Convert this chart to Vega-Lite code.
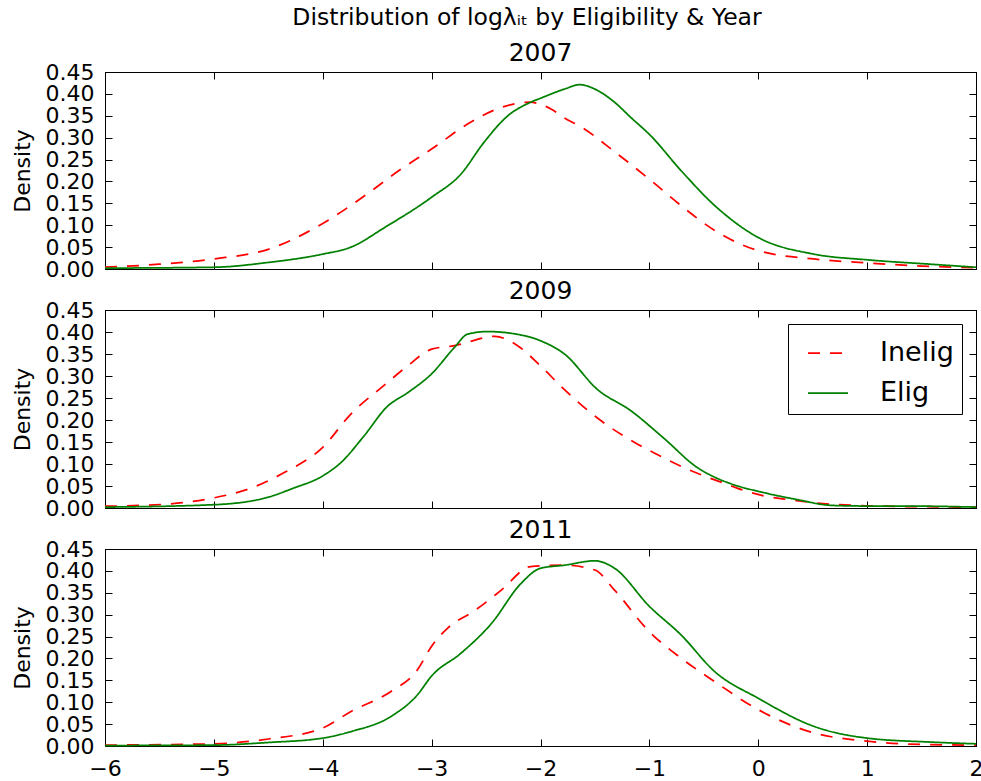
{
  "$schema": "https://vega.github.io/schema/vega-lite/v6.json",
  "padding": {"left": 10, "top": 6, "right": 0, "bottom": 0},
  "background": "white",
  "title": {"text": "Distribution of logλᵢₜ by Eligibility & Year", "font": "DejaVu Sans", "fontSize": 23.5, "fontWeight": "normal", "anchor": "middle", "offset": 11, "dx": 30, "color": "black"},
  "datasets": {
    "d": [
      {"year": 2007, "group": "Inelig", "x": -6, "y": 0.004},
      {"year": 2007, "group": "Inelig", "x": -5.5, "y": 0.011},
      {"year": 2007, "group": "Inelig", "x": -5, "y": 0.023},
      {"year": 2007, "group": "Inelig", "x": -4.5, "y": 0.045},
      {"year": 2007, "group": "Inelig", "x": -4, "y": 0.104},
      {"year": 2007, "group": "Inelig", "x": -3.6, "y": 0.170},
      {"year": 2007, "group": "Inelig", "x": -3.3, "y": 0.225},
      {"year": 2007, "group": "Inelig", "x": -3, "y": 0.274},
      {"year": 2007, "group": "Inelig", "x": -2.67, "y": 0.331},
      {"year": 2007, "group": "Inelig", "x": -2.36, "y": 0.369},
      {"year": 2007, "group": "Inelig", "x": -2.1, "y": 0.381},
      {"year": 2007, "group": "Inelig", "x": -1.9, "y": 0.365},
      {"year": 2007, "group": "Inelig", "x": -1.78, "y": 0.345},
      {"year": 2007, "group": "Inelig", "x": -1.63, "y": 0.325},
      {"year": 2007, "group": "Inelig", "x": -1.32, "y": 0.268},
      {"year": 2007, "group": "Inelig", "x": -0.99, "y": 0.203},
      {"year": 2007, "group": "Inelig", "x": -0.71, "y": 0.145},
      {"year": 2007, "group": "Inelig", "x": -0.4, "y": 0.088},
      {"year": 2007, "group": "Inelig", "x": 0, "y": 0.042},
      {"year": 2007, "group": "Inelig", "x": 0.51, "y": 0.023},
      {"year": 2007, "group": "Inelig", "x": 1, "y": 0.014},
      {"year": 2007, "group": "Inelig", "x": 1.58, "y": 0.006},
      {"year": 2007, "group": "Inelig", "x": 2, "y": 0.003},
      {"year": 2007, "group": "Elig", "x": -6, "y": 0.002},
      {"year": 2007, "group": "Elig", "x": -5, "y": 0.004},
      {"year": 2007, "group": "Elig", "x": -4.5, "y": 0.015},
      {"year": 2007, "group": "Elig", "x": -4, "y": 0.034},
      {"year": 2007, "group": "Elig", "x": -3.74, "y": 0.050},
      {"year": 2007, "group": "Elig", "x": -3.43, "y": 0.095},
      {"year": 2007, "group": "Elig", "x": -3, "y": 0.164},
      {"year": 2007, "group": "Elig", "x": -2.73, "y": 0.217},
      {"year": 2007, "group": "Elig", "x": -2.52, "y": 0.289},
      {"year": 2007, "group": "Elig", "x": -2.3, "y": 0.350},
      {"year": 2007, "group": "Elig", "x": -2.09, "y": 0.381},
      {"year": 2007, "group": "Elig", "x": -2.0, "y": 0.390},
      {"year": 2007, "group": "Elig", "x": -1.78, "y": 0.411},
      {"year": 2007, "group": "Elig", "x": -1.64, "y": 0.421},
      {"year": 2007, "group": "Elig", "x": -1.47, "y": 0.407},
      {"year": 2007, "group": "Elig", "x": -1.32, "y": 0.381},
      {"year": 2007, "group": "Elig", "x": -1.17, "y": 0.346},
      {"year": 2007, "group": "Elig", "x": -0.99, "y": 0.305},
      {"year": 2007, "group": "Elig", "x": -0.71, "y": 0.225},
      {"year": 2007, "group": "Elig", "x": -0.4, "y": 0.145},
      {"year": 2007, "group": "Elig", "x": 0, "y": 0.072},
      {"year": 2007, "group": "Elig", "x": 0.51, "y": 0.034},
      {"year": 2007, "group": "Elig", "x": 1, "y": 0.021},
      {"year": 2007, "group": "Elig", "x": 1.58, "y": 0.011},
      {"year": 2007, "group": "Elig", "x": 2, "y": 0.004},

      {"year": 2009, "group": "Inelig", "x": -6, "y": 0.004},
      {"year": 2009, "group": "Inelig", "x": -5.42, "y": 0.009},
      {"year": 2009, "group": "Inelig", "x": -5, "y": 0.023},
      {"year": 2009, "group": "Inelig", "x": -4.66, "y": 0.045},
      {"year": 2009, "group": "Inelig", "x": -4.35, "y": 0.081},
      {"year": 2009, "group": "Inelig", "x": -4, "y": 0.138},
      {"year": 2009, "group": "Inelig", "x": -3.74, "y": 0.214},
      {"year": 2009, "group": "Inelig", "x": -3.44, "y": 0.278},
      {"year": 2009, "group": "Inelig", "x": -3.22, "y": 0.323},
      {"year": 2009, "group": "Inelig", "x": -3, "y": 0.361},
      {"year": 2009, "group": "Inelig", "x": -2.79, "y": 0.369},
      {"year": 2009, "group": "Inelig", "x": -2.42, "y": 0.390},
      {"year": 2009, "group": "Inelig", "x": -2.21, "y": 0.369},
      {"year": 2009, "group": "Inelig", "x": -2.0, "y": 0.323},
      {"year": 2009, "group": "Inelig", "x": -1.78, "y": 0.269},
      {"year": 2009, "group": "Inelig", "x": -1.48, "y": 0.205},
      {"year": 2009, "group": "Inelig", "x": -1.1, "y": 0.144},
      {"year": 2009, "group": "Inelig", "x": -0.89, "y": 0.117},
      {"year": 2009, "group": "Inelig", "x": -0.72, "y": 0.096},
      {"year": 2009, "group": "Inelig", "x": -0.52, "y": 0.075},
      {"year": 2009, "group": "Inelig", "x": -0.32, "y": 0.057},
      {"year": 2009, "group": "Inelig", "x": -0.12, "y": 0.039},
      {"year": 2009, "group": "Inelig", "x": 0.08, "y": 0.026},
      {"year": 2009, "group": "Inelig", "x": 0.29, "y": 0.019},
      {"year": 2009, "group": "Inelig", "x": 0.51, "y": 0.012},
      {"year": 2009, "group": "Inelig", "x": 1, "y": 0.005},
      {"year": 2009, "group": "Inelig", "x": 1.5, "y": 0.003},
      {"year": 2009, "group": "Inelig", "x": 2, "y": 0.002},
      {"year": 2009, "group": "Elig", "x": -6, "y": 0.002},
      {"year": 2009, "group": "Elig", "x": -5, "y": 0.0075},
      {"year": 2009, "group": "Elig", "x": -4.51, "y": 0.024},
      {"year": 2009, "group": "Elig", "x": -4.27, "y": 0.045},
      {"year": 2009, "group": "Elig", "x": -4, "y": 0.073},
      {"year": 2009, "group": "Elig", "x": -3.83, "y": 0.104},
      {"year": 2009, "group": "Elig", "x": -3.62, "y": 0.164},
      {"year": 2009, "group": "Elig", "x": -3.41, "y": 0.230},
      {"year": 2009, "group": "Elig", "x": -3.22, "y": 0.262},
      {"year": 2009, "group": "Elig", "x": -3, "y": 0.305},
      {"year": 2009, "group": "Elig", "x": -2.79, "y": 0.365},
      {"year": 2009, "group": "Elig", "x": -2.67, "y": 0.395},
      {"year": 2009, "group": "Elig", "x": -2.49, "y": 0.401},
      {"year": 2009, "group": "Elig", "x": -2.09, "y": 0.388},
      {"year": 2009, "group": "Elig", "x": -2.0, "y": 0.380},
      {"year": 2009, "group": "Elig", "x": -1.78, "y": 0.350},
      {"year": 2009, "group": "Elig", "x": -1.48, "y": 0.270},
      {"year": 2009, "group": "Elig", "x": -1.17, "y": 0.221},
      {"year": 2009, "group": "Elig", "x": -0.86, "y": 0.157},
      {"year": 2009, "group": "Elig", "x": -0.56, "y": 0.092},
      {"year": 2009, "group": "Elig", "x": -0.4, "y": 0.070},
      {"year": 2009, "group": "Elig", "x": -0.25, "y": 0.055},
      {"year": 2009, "group": "Elig", "x": 0.05, "y": 0.035},
      {"year": 2009, "group": "Elig", "x": 0.36, "y": 0.019},
      {"year": 2009, "group": "Elig", "x": 0.67, "y": 0.006},
      {"year": 2009, "group": "Elig", "x": 0.97, "y": 0.0045},
      {"year": 2009, "group": "Elig", "x": 1.28, "y": 0.0045},
      {"year": 2009, "group": "Elig", "x": 1.58, "y": 0.004},
      {"year": 2009, "group": "Elig", "x": 2, "y": 0.002},

      {"year": 2011, "group": "Inelig", "x": -6, "y": 0.002},
      {"year": 2011, "group": "Inelig", "x": -5, "y": 0.005},
      {"year": 2011, "group": "Inelig", "x": -4.5, "y": 0.016},
      {"year": 2011, "group": "Inelig", "x": -4, "y": 0.041},
      {"year": 2011, "group": "Inelig", "x": -3.74, "y": 0.079},
      {"year": 2011, "group": "Inelig", "x": -3.37, "y": 0.125},
      {"year": 2011, "group": "Inelig", "x": -3.13, "y": 0.174},
      {"year": 2011, "group": "Inelig", "x": -3, "y": 0.228},
      {"year": 2011, "group": "Inelig", "x": -2.85, "y": 0.270},
      {"year": 2011, "group": "Inelig", "x": -2.6, "y": 0.310},
      {"year": 2011, "group": "Inelig", "x": -2.36, "y": 0.356},
      {"year": 2011, "group": "Inelig", "x": -2.09, "y": 0.410},
      {"year": 2011, "group": "Inelig", "x": -1.78, "y": 0.413},
      {"year": 2011, "group": "Inelig", "x": -1.5, "y": 0.402},
      {"year": 2011, "group": "Inelig", "x": -1.32, "y": 0.356},
      {"year": 2011, "group": "Inelig", "x": -1.0, "y": 0.261},
      {"year": 2011, "group": "Inelig", "x": -0.71, "y": 0.201},
      {"year": 2011, "group": "Inelig", "x": -0.4, "y": 0.147},
      {"year": 2011, "group": "Inelig", "x": 0, "y": 0.083},
      {"year": 2011, "group": "Inelig", "x": 0.51, "y": 0.030},
      {"year": 2011, "group": "Inelig", "x": 1, "y": 0.011},
      {"year": 2011, "group": "Inelig", "x": 1.58, "y": 0.003},
      {"year": 2011, "group": "Inelig", "x": 2, "y": 0.002},
      {"year": 2011, "group": "Elig", "x": -6, "y": 0.001},
      {"year": 2011, "group": "Elig", "x": -5, "y": 0.002},
      {"year": 2011, "group": "Elig", "x": -4.5, "y": 0.008},
      {"year": 2011, "group": "Elig", "x": -4, "y": 0.018},
      {"year": 2011, "group": "Elig", "x": -3.74, "y": 0.033},
      {"year": 2011, "group": "Elig", "x": -3.37, "y": 0.068},
      {"year": 2011, "group": "Elig", "x": -3.13, "y": 0.117},
      {"year": 2011, "group": "Elig", "x": -3, "y": 0.160},
      {"year": 2011, "group": "Elig", "x": -2.73, "y": 0.212},
      {"year": 2011, "group": "Elig", "x": -2.45, "y": 0.280},
      {"year": 2011, "group": "Elig", "x": -2.18, "y": 0.371},
      {"year": 2011, "group": "Elig", "x": -2.0, "y": 0.406},
      {"year": 2011, "group": "Elig", "x": -1.78, "y": 0.413},
      {"year": 2011, "group": "Elig", "x": -1.5, "y": 0.423},
      {"year": 2011, "group": "Elig", "x": -1.32, "y": 0.406},
      {"year": 2011, "group": "Elig", "x": -1.0, "y": 0.319},
      {"year": 2011, "group": "Elig", "x": -0.71, "y": 0.254},
      {"year": 2011, "group": "Elig", "x": -0.4, "y": 0.170},
      {"year": 2011, "group": "Elig", "x": 0, "y": 0.109},
      {"year": 2011, "group": "Elig", "x": 0.51, "y": 0.045},
      {"year": 2011, "group": "Elig", "x": 1, "y": 0.018},
      {"year": 2011, "group": "Elig", "x": 1.58, "y": 0.009},
      {"year": 2011, "group": "Elig", "x": 2, "y": 0.005}
    ]
  },
  "data": {"name": "d"},
  "spacing": -3,
  "resolve": {"legend": {"color": "independent", "strokeDash": "independent"}},
  "vconcat": [
    {
      "width": 871, "height": 197,
      "title": {"text": "2007"},
      "transform": [{"filter": "datum.year == 2007"}],
      "layer": [
        {
          "mark": {"type": "line", "strokeWidth": 1.75, "interpolate": "monotone"},
          "encoding": {
            "x": {"field": "x", "type": "quantitative", "scale": {"domain": [-6, 2], "nice": false, "zero": false}, "axis": {"values": [-6, -5, -4, -3, -2, -1, 0, 1, 2], "labels": false, "title": null, "tickSize": -7}},
            "y": {"field": "y", "type": "quantitative", "scale": {"domain": [0, 0.45], "nice": false}, "axis": {"values": [0, 0.05, 0.1, 0.15, 0.2, 0.25, 0.3, 0.35, 0.4, 0.45], "format": ".2f", "title": "Density", "tickSize": -7, "labelPadding": 18}},
            "color": {"field": "group", "type": "nominal", "scale": {"domain": ["Inelig", "Elig"], "range": ["#ff0000", "#008000"]}, "legend": null},
            "strokeDash": {"field": "group", "type": "nominal", "scale": {"domain": ["Inelig", "Elig"], "range": [[12, 10], [1, 0]]}, "legend": null}
          }
        },
        {
          "mark": {"type": "line", "opacity": 0},
          "encoding": {
            "x": {"field": "x", "type": "quantitative", "scale": {"domain": [-6, 2], "nice": false, "zero": false}, "axis": {"orient": "top", "values": [-6, -5, -4, -3, -2, -1, 0, 1, 2], "labels": false, "title": null, "tickSize": -7}},
            "y": {"field": "y", "type": "quantitative", "scale": {"domain": [0, 0.45], "nice": false}, "axis": {"orient": "right", "values": [0, 0.05, 0.1, 0.15, 0.2, 0.25, 0.3, 0.35, 0.4, 0.45], "labels": false, "title": null, "tickSize": -7}},
            "detail": {"field": "group"}
          }
        }
      ],
      "resolve": {"axis": {"x": "independent", "y": "independent"}}
    },
    {
      "width": 871, "height": 198,
      "title": {"text": "2009"},
      "transform": [{"filter": "datum.year == 2009"}],
      "layer": [
        {
          "mark": {"type": "line", "strokeWidth": 1.75, "interpolate": "monotone"},
          "encoding": {
            "x": {"field": "x", "type": "quantitative", "scale": {"domain": [-6, 2], "nice": false, "zero": false}, "axis": {"values": [-6, -5, -4, -3, -2, -1, 0, 1, 2], "labels": false, "title": null, "tickSize": -7}},
            "y": {"field": "y", "type": "quantitative", "scale": {"domain": [0, 0.45], "nice": false}, "axis": {"values": [0, 0.05, 0.1, 0.15, 0.2, 0.25, 0.3, 0.35, 0.4, 0.45], "format": ".2f", "title": "Density", "tickSize": -7, "labelPadding": 18}},
            "color": {"field": "group", "type": "nominal", "scale": {"domain": ["Inelig", "Elig"], "range": ["#ff0000", "#008000"]}, "legend": {"orient": "top-right", "offset": 14, "title": null}},
            "strokeDash": {"field": "group", "type": "nominal", "scale": {"domain": ["Inelig", "Elig"], "range": [[12, 10], [1, 0]]}, "legend": {"orient": "top-right", "offset": 14, "title": null}}
          }
        },
        {
          "mark": {"type": "line", "opacity": 0},
          "encoding": {
            "x": {"field": "x", "type": "quantitative", "scale": {"domain": [-6, 2], "nice": false, "zero": false}, "axis": {"orient": "top", "values": [-6, -5, -4, -3, -2, -1, 0, 1, 2], "labels": false, "title": null, "tickSize": -7}},
            "y": {"field": "y", "type": "quantitative", "scale": {"domain": [0, 0.45], "nice": false}, "axis": {"orient": "right", "values": [0, 0.05, 0.1, 0.15, 0.2, 0.25, 0.3, 0.35, 0.4, 0.45], "labels": false, "title": null, "tickSize": -7}},
            "detail": {"field": "group"}
          }
        }
      ],
      "resolve": {"axis": {"x": "independent", "y": "independent"}}
    },
    {
      "width": 871, "height": 197,
      "title": {"text": "2011"},
      "transform": [{"filter": "datum.year == 2011"}],
      "layer": [
        {
          "mark": {"type": "line", "strokeWidth": 1.75, "interpolate": "monotone"},
          "encoding": {
            "x": {"field": "x", "type": "quantitative", "scale": {"domain": [-6, 2], "nice": false, "zero": false}, "axis": {"values": [-6, -5, -4, -3, -2, -1, 0, 1, 2], "format": "d", "title": null, "tickSize": -7, "labelPadding": 19}},
            "y": {"field": "y", "type": "quantitative", "scale": {"domain": [0, 0.45], "nice": false}, "axis": {"values": [0, 0.05, 0.1, 0.15, 0.2, 0.25, 0.3, 0.35, 0.4, 0.45], "format": ".2f", "title": "Density", "tickSize": -7, "labelPadding": 18}},
            "color": {"field": "group", "type": "nominal", "scale": {"domain": ["Inelig", "Elig"], "range": ["#ff0000", "#008000"]}, "legend": null},
            "strokeDash": {"field": "group", "type": "nominal", "scale": {"domain": ["Inelig", "Elig"], "range": [[12, 10], [1, 0]]}, "legend": null}
          }
        },
        {
          "mark": {"type": "line", "opacity": 0},
          "encoding": {
            "x": {"field": "x", "type": "quantitative", "scale": {"domain": [-6, 2], "nice": false, "zero": false}, "axis": {"orient": "top", "values": [-6, -5, -4, -3, -2, -1, 0, 1, 2], "labels": false, "title": null, "tickSize": -7}},
            "y": {"field": "y", "type": "quantitative", "scale": {"domain": [0, 0.45], "nice": false}, "axis": {"orient": "right", "values": [0, 0.05, 0.1, 0.15, 0.2, 0.25, 0.3, 0.35, 0.4, 0.45], "labels": false, "title": null, "tickSize": -7}},
            "detail": {"field": "group"}
          }
        }
      ],
      "resolve": {"axis": {"x": "independent", "y": "independent"}}
    }
  ],
  "config": {
    "font": "DejaVu Sans",
    "view": {"stroke": "black", "strokeWidth": 1},
    "axis": {"grid": false, "domainColor": "black", "domainWidth": 1, "tickColor": "black", "tickWidth": 1, "labelColor": "black", "labelFont": "DejaVu Sans", "labelFontSize": 22, "labelOverlap": false, "labelFlush": false, "titleFont": "DejaVu Sans", "titleFontSize": 22, "titleFontWeight": "normal", "titleColor": "black", "titlePadding": 11},
    "title": {"font": "DejaVu Sans", "fontSize": 25, "fontWeight": "normal", "color": "black", "offset": -5},
    "legend": {"strokeColor": "black", "fillColor": "white", "padding": 8, "cornerRadius": 0, "labelFont": "DejaVu Sans", "labelFontSize": 27, "labelColor": "black", "symbolType": "stroke", "symbolSize": 1600, "symbolStrokeWidth": 1.75, "symbolOffset": 11, "labelOffset": 31, "rowPadding": 6, "symbolOpacity": 1}
  }
}
